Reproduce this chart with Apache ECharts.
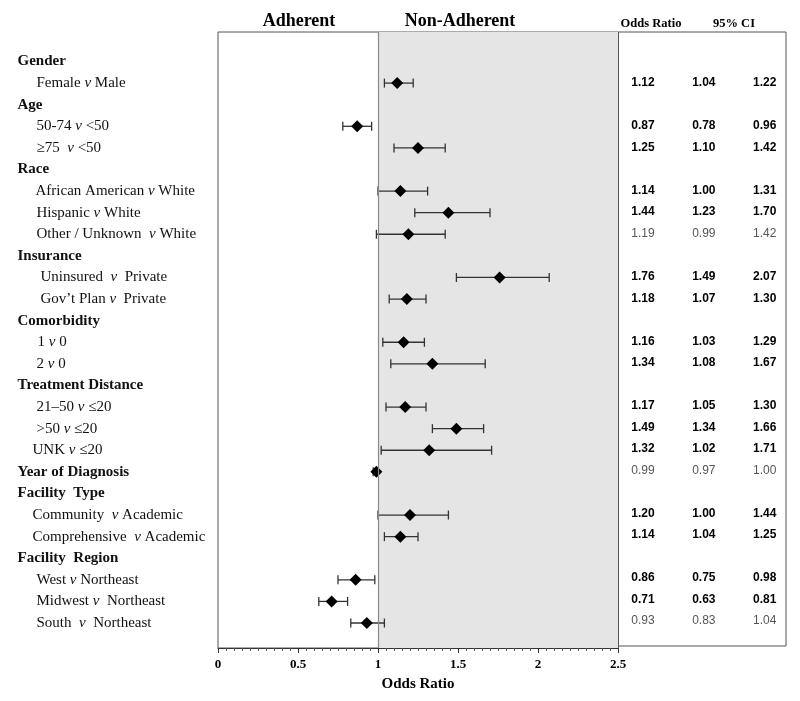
<!DOCTYPE html>
<html><head><meta charset="utf-8">
<script src="https://cdn.jsdelivr.net/npm/echarts@6/dist/echarts.min.js"></script>
<style>html,body{margin:0;padding:0;background:#fff}#c{width:800px;height:701px}</style>
</head><body><div id="c"></div>
<script>
// ---------------- DATA ----------------
const rowLabels = [
  'Gender', 'Female v Male',
  'Age', '50-74 v <50', '\u226575  v <50',
  'Race', 'African American v White', 'Hispanic v White', 'Other / Unknown  v White',
  'Insurance', 'Uninsured  v  Private', 'Gov\u2019t Plan v  Private',
  'Comorbidity', '1 v 0', '2 v 0',
  'Treatment Distance', '21\u201350 v \u226420', '>50 v \u226420', 'UNK v \u226420',
  'Year of Diagnosis',
  'Facility  Type', 'Community  v Academic', 'Comprehensive  v Academic',
  'Facility  Region', 'West v Northeast', 'Midwest v  Northeast', 'South  v  Northeast'
];
const headerRows = [0, 2, 5, 9, 12, 15, 19, 20, 23];
const oddsRatio = [null,1.12, null,0.87,1.25, null,1.14,1.44,1.19, null,1.76,1.18, null,1.16,1.34, null,1.17,1.49,1.32, 0.99, null,1.20,1.14, null,0.86,0.71,0.93];
const ciLower   = [null,1.04, null,0.78,1.10, null,1.00,1.23,0.99, null,1.49,1.07, null,1.03,1.08, null,1.05,1.34,1.02, 0.97, null,1.00,1.04, null,0.75,0.63,0.83];
const ciUpper   = [null,1.22, null,0.96,1.42, null,1.31,1.70,1.42, null,2.07,1.30, null,1.29,1.67, null,1.30,1.66,1.71, 1.00, null,1.44,1.25, null,0.98,0.81,1.04];
const significant = [null,true, null,true,true, null,true,true,false, null,true,true, null,true,true, null,true,true,true, false, null,true,true, null,true,true,false];
const xTickValues = [0, 0.5, 1, 1.5, 2, 2.5];
const sideHeaders = ['Adherent', 'Non-Adherent'];
const tableHeaders = ['Odds Ratio', '95% CI'];

// ---------------- STYLE / LAYOUT ----------------
const labelIndent = {1:36,3:36,4:36,6:35,7:36,8:36,10:40,11:40,13:37,14:36,16:36,17:36,18:32,21:32,22:32,24:36,25:36,26:36};
const SERIF = '"Liberation Serif", "Times New Roman", serif';
const SANS = '"Liberation Sans", Arial, sans-serif';
const yMin = -1.366, yMax = 27.157;
const fmt = v => v.toFixed(2);

const labelData = rowLabels.map((t, i) => {
  const isH = headerRows.includes(i);
  return { value: [isH ? 17 : (labelIndent[i] || 36), i], name: t, isH,
    label: { fontWeight: isH ? 'bold' : 'normal' } };
});
const pointData = [], barData = [], tableData = [];
oddsRatio.forEach((v, i) => {
  if (v == null) return;
  pointData.push([v, i]);
  barData.push([i, ciLower[i], ciUpper[i]]);
  [v, ciLower[i], ciUpper[i]].forEach((n, c) => tableData.push({ value: [c, i], name: fmt(n), sig: significant[i] }));
});

const yAx = (gi) => ({ type: 'value', gridIndex: gi, inverse: true, min: yMin, max: yMax, show: false });

const chart = echarts.init(document.getElementById('c'), null, { renderer: 'canvas' });
chart.setOption({
  animation: false,
  backgroundColor: '#fff',
  grid: [
    { left: 218, top: 32, width: 400, height: 616, show: true, borderColor: '#555', borderWidth: 1, backgroundColor: 'transparent' },
    { left: 618, top: 32, width: 168, height: 614, show: true, borderColor: '#555', borderWidth: 1, backgroundColor: 'transparent' },
    { left: 0, top: 32, width: 218, height: 616, show: false }
  ],
  xAxis: [
    { type: 'value', gridIndex: 0, min: xTickValues[0], max: xTickValues[xTickValues.length - 1], interval: 0.5,
      axisLine: { show: true, onZero: false, lineStyle: { color: '#333', width: 1 } },
      axisTick: { show: true, inside: false, length: 5, lineStyle: { color: '#333' } },
      minorTick: { show: true, splitNumber: 10, length: 3, lineStyle: { color: '#555' } },
      splitLine: { show: false },
      axisLabel: { show: true, margin: 10, color: '#000', fontFamily: SERIF, fontWeight: 'bold', fontSize: 13,
        formatter: v => String(v) },
      name: 'Odds Ratio', nameLocation: 'middle', nameGap: 29,
      nameTextStyle: { color: '#000', fontFamily: SERIF, fontWeight: 'bold', fontSize: 15 } },
    { type: 'value', gridIndex: 1, min: -0.41, max: 2.35, show: false },
    { type: 'value', gridIndex: 2, min: 0, max: 218, show: false }
  ],
  yAxis: [yAx(0), yAx(1), yAx(2)],
  graphic: [
    { type: 'text', x: 299, y: 21, style: { text: sideHeaders[0], font: 'bold 18px ' + SERIF, fill: '#000', align: 'center', verticalAlign: 'middle' } },
    { type: 'text', x: 460, y: 21, style: { text: sideHeaders[1], font: 'bold 18px ' + SERIF, fill: '#000', align: 'center', verticalAlign: 'middle' } },
    { type: 'text', x: 651, y: 24, style: { text: tableHeaders[0], font: 'bold 12.5px ' + SERIF, fill: '#000', align: 'center', verticalAlign: 'middle' } },
    { type: 'text', x: 734, y: 24, style: { text: tableHeaders[1], font: 'bold 12.5px ' + SERIF, fill: '#000', align: 'center', verticalAlign: 'middle' } }
  ],
  series: [
    { type: 'custom', xAxisIndex: 0, yAxisIndex: 0, silent: true, z: 3,
      data: barData, encode: { x: [1, 2], y: 0 },
      renderItem: (params, api) => {
        const r = api.value(0);
        const lo = api.coord([api.value(1), r]);
        const hi = api.coord([api.value(2), r]);
        const c = 4.5, st = { stroke: '#333', lineWidth: 1.3 };
        return { type: 'group', children: [
          { type: 'line', shape: { x1: lo[0], y1: lo[1], x2: hi[0], y2: hi[1] }, style: st },
          { type: 'line', shape: { x1: lo[0], y1: lo[1] - c, x2: lo[0], y2: lo[1] + c }, style: st },
          { type: 'line', shape: { x1: hi[0], y1: hi[1] - c, x2: hi[0], y2: hi[1] + c }, style: st }
        ] };
      }
    },
    { type: 'scatter', xAxisIndex: 0, yAxisIndex: 0, silent: true, z: 4,
      symbol: 'diamond', symbolSize: [12, 12], itemStyle: { color: '#000', opacity: 1 },
      data: pointData,
      markArea: { silent: true, z: 1, itemStyle: { color: '#e5e5e5', opacity: 1 }, data: [[{ xAxis: 1 }, { xAxis: 2.5 }]] },
      markLine: { silent: true, symbol: 'none', label: { show: false }, animation: false,
        data: [
          { xAxis: 1, lineStyle: { color: '#8a8a8a', width: 1.2, type: 'solid', opacity: 1 } },
          { xAxis: 2.5, lineStyle: { color: '#555', width: 1, type: 'solid', opacity: 1 } }
        ] }
    },
    { type: 'scatter', xAxisIndex: 2, yAxisIndex: 2, silent: true, symbolSize: 1,
      itemStyle: { color: 'transparent', opacity: 1 },
      data: labelData,
      label: { show: true, position: 'right', distance: 0,
        formatter: p => p.data.isH ? p.name : p.name.replace(/(^|\s)v(\s)/, '$1{i|v}$2'),
        fontFamily: SERIF, fontSize: 15, color: '#111', opacity: 1,
        rich: { i: { fontFamily: SERIF, fontSize: 15, fontStyle: 'italic', color: '#111' } } }
    },
    { type: 'scatter', xAxisIndex: 1, yAxisIndex: 1, silent: true, symbolSize: 1,
      itemStyle: { color: 'transparent', opacity: 1 },
      data: tableData.map(d => ({ value: d.value, name: d.name,
        label: { fontWeight: d.sig ? 'bold' : 'normal', color: d.sig ? '#000' : '#555' } })),
      label: { show: true, position: 'inside', formatter: p => p.name, fontFamily: SANS, fontSize: 12, opacity: 1 }
    }
  ]
});
</script></body></html>
